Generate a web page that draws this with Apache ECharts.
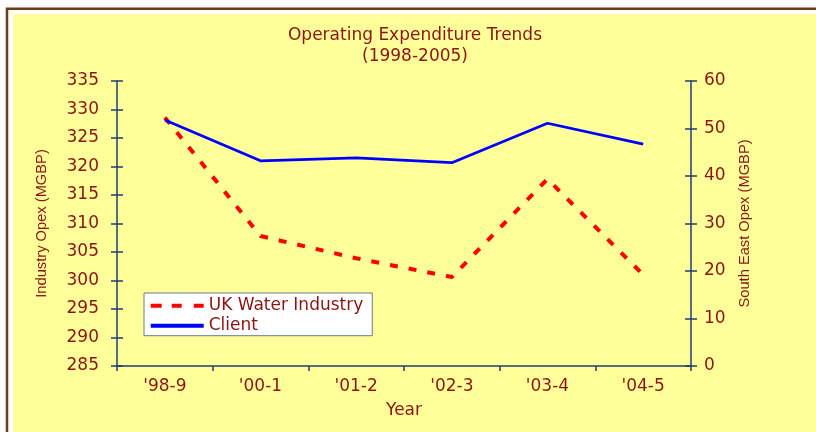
<!DOCTYPE html>
<html>
<head>
<meta charset="utf-8">
<script src="https://cdn.jsdelivr.net/npm/echarts@6/dist/echarts.min.js"></script>
<style>
html,body{margin:0;padding:0;background:#fff;overflow:hidden;}
#chart{width:816px;height:432px;}
</style>
</head>
<body>
<div id="chart"></div>
<script>
const categories = ["'98-9", "'00-1", "'01-2", "'02-3", "'03-4", "'04-5"];
const industryOpex = [328.6, 307.8, 303.9, 300.6, 317.8, 301.0];
const clientOpex = [51.8, 43.2, 43.8, 42.8, 51.1, 46.7];
const seriesNames = ['UK Water Industry', 'Client'];
const titleText = 'Operating Expenditure Trends\n(1998-2005)';
const xName = 'Year';
const leftName = 'Industry Opex (MGBP)';
const rightName = 'South East Opex (MGBP)';
const leftRange = {min: 285, max: 335, interval: 5};
const rightRange = {min: 0, max: 60, interval: 10};

const txt = '#8A1414';
const axisCol = '#1f3f73';
const font = 'DejaVu Sans';
const fs = 17;

const chart = echarts.init(document.getElementById('chart'), null, {renderer: 'canvas'});

function dupAxis(range, pos) {
  return {
    type: 'value', position: pos, min: range.min, max: range.max, interval: range.interval,
    axisLine: {show: false},
    axisTick: {show: true, inside: true, length: 6, lineStyle: {color: axisCol, width: 1.5}},
    axisLabel: {show: false}, splitLine: {show: false}
  };
}

chart.setOption({
  backgroundColor: '#ffffff',
  animation: false,
  graphic: {
    elements: [
      {type: 'rect', z: -9, silent: true, shape: {x: 13, y: 14, width: 803, height: 418},
       style: {fill: '#FFFF99'}},
      {type: 'polyline', z: -8, silent: true, shape: {points: [[7, 432], [7, 8.7], [816, 8.7]]},
       style: {fill: null, stroke: '#6E3B14', lineWidth: 2.5}}
    ]
  },
  title: {
    text: titleText, left: 415, top: 24.5, textAlign: 'center', padding: 0,
    textStyle: {fontFamily: font, fontSize: fs, fontWeight: 'normal', color: txt, lineHeight: 21.5}
  },
  legend: {
    orient: 'vertical', left: 144, top: 293,
    padding: [4.2, 9, 1.5, 6.7], itemGap: 3, itemWidth: 53, itemHeight: 4,
    backgroundColor: '#ffffff', borderColor: '#6a7a90', borderWidth: 1,
    textStyle: {fontFamily: font, fontSize: fs, color: txt},
    data: [
      {name: seriesNames[0], icon: 'path://M0,0H11V4H0Z M21,0H31V4H21Z M43,0H53V4H43Z'},
      {name: seriesNames[1], icon: 'path://M0,0H53V4H0Z'}
    ]
  },
  grid: {left: 117, right: 125, top: 81, bottom: 66},
  xAxis: {
    type: 'category', data: categories, boundaryGap: true,
    axisLine: {lineStyle: {color: axisCol, width: 1.5}},
    axisTick: {show: true, length: 5, lineStyle: {color: axisCol, width: 1.5}},
    axisLabel: {fontFamily: font, fontSize: fs, color: txt, margin: 12},
    splitLine: {show: false},
    name: xName, nameLocation: 'middle', nameGap: 36,
    nameTextStyle: {fontFamily: font, fontSize: fs, color: txt}
  },
  yAxis: [
    {
      type: 'value', position: 'left', min: leftRange.min, max: leftRange.max, interval: leftRange.interval,
      axisLine: {show: true, lineStyle: {color: axisCol, width: 1.5}},
      axisTick: {show: true, length: 6, lineStyle: {color: axisCol, width: 1.5}},
      axisLabel: {fontFamily: font, fontSize: fs, color: txt, margin: 18},
      splitLine: {show: false},
      name: leftName, nameLocation: 'middle', nameRotate: 90, nameGap: 68,
      nameTextStyle: {fontFamily: 'Liberation Sans', fontSize: 14.7, color: txt}
    },
    {
      type: 'value', position: 'right', min: rightRange.min, max: rightRange.max, interval: rightRange.interval,
      axisLine: {show: true, lineStyle: {color: axisCol, width: 1.5}},
      axisTick: {show: true, length: 6, lineStyle: {color: axisCol, width: 1.5}},
      axisLabel: {fontFamily: font, fontSize: fs, color: txt, margin: 13},
      splitLine: {show: false},
      name: rightName, nameLocation: 'middle', nameRotate: 90, nameGap: 46,
      nameTextStyle: {fontFamily: 'Liberation Sans', fontSize: 14.7, color: txt}
    },
    dupAxis(leftRange, 'left'),
    dupAxis(rightRange, 'right')
  ],
  series: [
    {
      name: seriesNames[0], type: 'line', yAxisIndex: 0, data: industryOpex,
      symbol: 'none', color: '#FF0000',
      lineStyle: {color: '#FF0000', width: 4, type: [8, 11], cap: 'butt'}
    },
    {
      name: seriesNames[1], type: 'line', yAxisIndex: 1, data: clientOpex,
      symbol: 'none', color: '#0000FF',
      lineStyle: {color: '#0000FF', width: 2.75}
    }
  ]
});
</script>
</body>
</html>
